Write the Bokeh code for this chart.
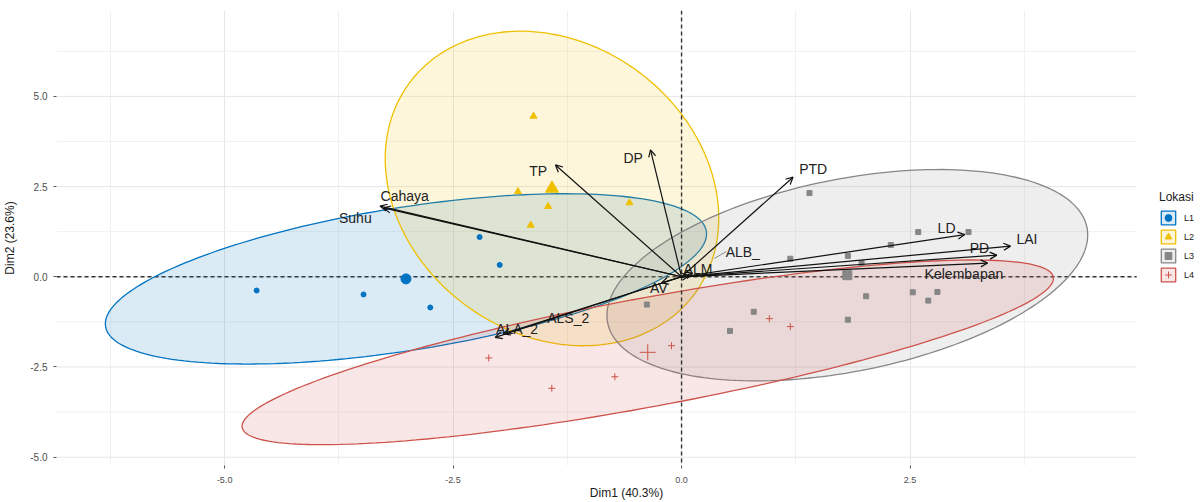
import numpy as np
from bokeh.plotting import figure
from bokeh.models import (Range1d, FixedTicker, PrintfTickFormatter, Span, Arrow, OpenHead,
                          ColumnDataSource, Legend, LegendItem)
from bokeh.embed import file_html
from bokeh.resources import INLINE
from bokeh.core.properties import value

# ---------------- data ----------------
groups = ["L1", "L2", "L3", "L4"]
colors = ["#0073C2", "#EFC000", "#868686", "#CD534C"]
markers = ["circle", "triangle", "square", "cross"]

l1_x = [-4.65, -3.48, -2.75, -2.21, -1.99]
l1_y = [-0.38, -0.49, -0.85, 1.10, 0.33]
l2_x = [-1.62, -1.79, -1.46, -1.65, -0.57]
l2_y = [4.45, 2.36, 1.95, 1.43, 2.05]
l3_x = [-0.38, 0.79, 0.53, 1.19, 1.40, 1.82, 1.82, 2.02, 1.97, 2.29, 2.59, 3.14, 2.53, 2.80, 2.70]
l3_y = [-0.77, -0.97, -1.50, 0.50, 2.32, -1.19, 0.58, -0.54, 0.38, 0.88, 1.24, 1.24, -0.43, -0.42, -0.66]
l4_x = [-2.11, -1.42, -0.73, -0.11, 0.96, 1.19]
l4_y = [-2.25, -3.09, -2.77, -1.91, -1.16, -1.38]

# ellipse shape per group (covariance-like terms)
ell_sxx = [10.82, 3.33, 6.92, 19.71]
ell_syy = [5.57, 19.0, 8.58, 6.55]
ell_sxy = [4.1, -1.5, 2.93, 9.1]

# variable arrows (tips) and their labels
var_names = ["Cahaya", "Suhu", "TP", "DP", "PTD", "LD", "LAI", "PD", "Kelembapan",
             "ALB_", "ALM", "AV", "ALS_2", "ALA_2"]
var_x = [-3.30, -3.26, -1.38, -0.34, 1.22, 3.10, 3.60, 3.45, 3.35, 0.12, 0.08, -0.22, -1.95, -2.04]
var_y = [1.96, 1.91, 3.10, 3.52, 2.76, 1.17, 0.85, 0.60, 0.38, 0.10, 0.03, -0.17, -1.58, -1.68]
lab_x = [-3.03, -3.57, -1.57, -0.53, 1.44, 2.90, 3.78, 3.26, 3.09, 0.67, 0.18, -0.25, -1.24, -1.80]
lab_y = [2.23, 1.64, 2.92, 3.30, 2.99, 1.34, 1.04, 0.79, 0.08, 0.70, 0.21, -0.31, -1.15, -1.46]

x_ticks = [-5.0, -2.5, 0.0, 2.5]
x_minor = [-6.25, -3.75, -1.25, 1.25, 3.75]
y_ticks = [-5.0, -2.5, 0.0, 2.5, 5.0]
y_minor = [-3.75, -1.25, 1.25, 3.75, 6.25]

# panel limits (data units) and the extra room on the right for the guide
x_lo, x_hi = -6.84, 4.98
y_lo, y_hi = -5.23, 7.38
x_guide = 5.635

xs_all = [l1_x, l2_x, l3_x, l4_x]
ys_all = [l1_y, l2_y, l3_y, l4_y]

FONT = "Liberation Sans"

p = figure(width=1196, height=502, output_backend="svg", toolbar_location=None,
           x_range=Range1d(x_lo, x_guide), y_range=Range1d(y_lo, y_hi),
           min_border_left=53, min_border_right=0, min_border_top=10, min_border_bottom=35)
p.outline_line_color = None
p.background_fill_color = "white"

for ax in (p.xaxis[0], p.yaxis[0]):
    ax.axis_line_color = None
    ax.major_tick_line_color = "#555555"
    ax.major_tick_out = 3
    ax.major_tick_in = 0
    ax.minor_tick_line_color = None
    ax.major_label_text_font = FONT
    ax.major_label_text_color = "#4d4d4d"
    ax.axis_label_text_font = FONT
    ax.axis_label_text_font_style = "normal"
    ax.axis_label_text_color = "#1a1a1a"
    ax.formatter = PrintfTickFormatter(format="%.1f")

p.xaxis[0].ticker = FixedTicker(ticks=x_ticks, minor_ticks=x_minor)
p.yaxis[0].ticker = FixedTicker(ticks=y_ticks, minor_ticks=y_minor)
p.xaxis.axis_label = "Dim1 (40.3%)"
p.yaxis.axis_label = "Dim2 (23.6%)"
p.xaxis.major_label_text_font_size = "9px"
p.yaxis.major_label_text_font_size = "10px"
p.xaxis.axis_label_text_font_size = "12px"
p.yaxis.axis_label_text_font_size = "12px"
p.xaxis.major_label_standoff = 7
p.yaxis.major_label_standoff = 5
p.xaxis.axis_label_standoff = 0
p.yaxis.axis_label_standoff = 10

# vertical grid via the library grid; horizontal grid limited to the panel
p.xgrid.grid_line_color = "#e6e6e6"
p.xgrid.grid_line_width = 1
p.xgrid.minor_grid_line_color = "#f1f1f1"
p.xgrid.minor_grid_line_width = 1
p.ygrid.grid_line_color = None

p.segment(x0=[x_lo] * len(y_minor), x1=[x_hi] * len(y_minor), y0=y_minor, y1=y_minor,
          line_color="#f1f1f1", line_width=1)
p.segment(x0=[x_lo] * len(y_ticks), x1=[x_hi] * len(y_ticks), y0=y_ticks, y1=y_ticks,
          line_color="#e6e6e6", line_width=1)

# reference lines
p.segment(x0=[x_lo], x1=[x_hi], y0=[0.0], y1=[0.0], line_color="#333333", line_width=1.4, line_dash="4 3")
p.add_layout(Span(location=0, dimension="height", line_color="#333333", line_width=1.4, line_dash="4 3"))

# ellipses
t = np.linspace(0, 2 * np.pi, 200)
patch_renderers = []
for i in range(4):
    cx = float(np.mean(xs_all[i]))
    cy = float(np.mean(ys_all[i]))
    S = np.array([[ell_sxx[i], ell_sxy[i]], [ell_sxy[i], ell_syy[i]]])
    L = np.linalg.cholesky(S)
    pts = L @ np.vstack([np.cos(t), np.sin(t)])
    r = p.patch(cx + pts[0], cy + pts[1], fill_color=colors[i], fill_alpha=0.14,
                line_color=colors[i], line_width=1.3)
    patch_renderers.append(r)

# points and centroids
point_renderers = []
small = [5, 7, 5, 7]
big = [10, 13, 9, 16]
for i in range(4):
    src = ColumnDataSource(dict(x=xs_all[i], y=ys_all[i]))
    r = p.scatter("x", "y", source=src, marker=markers[i], size=small[i],
                  fill_color=colors[i], line_color=colors[i], line_width=1)
    point_renderers.append(r)
    p.scatter([float(np.mean(xs_all[i]))], [float(np.mean(ys_all[i]))], marker=markers[i],
              size=big[i], fill_color=colors[i], line_color=colors[i], line_width=1)

# variable arrows
asrc = ColumnDataSource(dict(x0=[0.0] * len(var_x), y0=[0.0] * len(var_y), x1=var_x, y1=var_y))
p.add_layout(Arrow(source=asrc, x_start="x0", y_start="y0", x_end="x1", y_end="y1",
                   line_color="#111111", line_width=1.2,
                   end=OpenHead(size=7, line_color="#111111", line_width=1.2)))

# repel segment for ALB_
p.line([0.36, 0.49], [0.51, 0.70], line_color="#888888", line_width=1)

lsrc = ColumnDataSource(dict(x=lab_x, y=lab_y, text=var_names))
p.text("x", "y", text="text", source=lsrc, text_font=value(FONT), text_font_size="14px",
       text_align="center", text_baseline="middle", text_color="#222222")

# legend (placed just right of the panel, like ggplot's guide)
items = [LegendItem(label=groups[i], renderers=[patch_renderers[i], point_renderers[i]]) for i in range(4)]
legend = Legend(items=items, title="Lokasi", location=(1103, 182), orientation="vertical",
                glyph_width=18, glyph_height=17, label_height=17, spacing=2, padding=0, margin=0,
                label_standoff=7, border_line_color=None, background_fill_alpha=0,
                label_text_font=FONT, label_text_font_size="9px", label_text_color="#1a1a1a",
                title_text_font=FONT, title_text_font_size="12px", title_text_font_style="normal",
                title_text_color="#1a1a1a", title_standoff=5)
p.add_layout(legend, "center")

open("out.html", "w").write(file_html(p, INLINE))
